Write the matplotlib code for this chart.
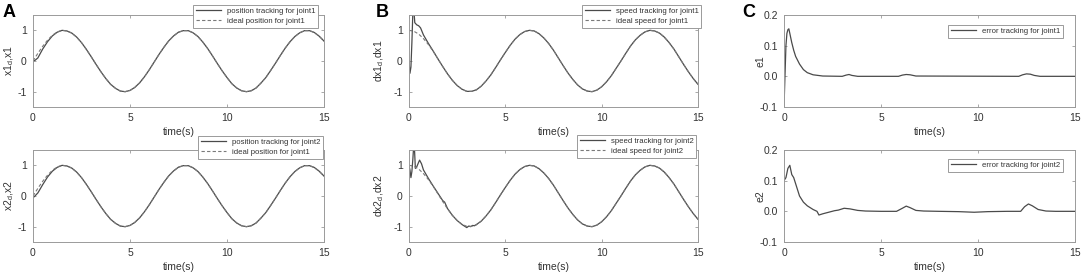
import numpy as np
import matplotlib
matplotlib.use('Agg')
from matplotlib import pyplot as plt

matplotlib.rcParams['font.family'] = ['Liberation Sans', 'DejaVu Sans']
matplotlib.rcParams['mathtext.fontset'] = 'custom'
matplotlib.rcParams['mathtext.rm'] = 'Liberation Sans'
matplotlib.rcParams['mathtext.it'] = 'Liberation Sans'
matplotlib.rcParams['axes.unicode_minus'] = False

# ---- data ----
t_grid = np.arange(0, 15.25, 0.25)

# ideal position (same for both joints)
pos_ideal = [0.00, 0.25, 0.48, 0.68, 0.84, 0.95, 1.00, 0.98, 0.91, 0.78, 0.60, 0.38,
             0.14, -0.11, -0.35, -0.57, -0.76, -0.89, -0.98, -1.00, -0.96, -0.86, -0.71,
             -0.51, -0.28, -0.03, 0.22, 0.45, 0.66, 0.82, 0.94, 0.99, 0.99, 0.92, 0.80,
             0.62, 0.41, 0.17, -0.08, -0.32, -0.54, -0.74, -0.88, -0.97, -1.00, -0.97,
             -0.88, -0.72, -0.54, -0.31, -0.07, 0.18, 0.42, 0.63, 0.80, 0.92, 0.99, 0.99,
             0.93, 0.81, 0.65]

# ideal speed (same for both joints)
spd_ideal = [1.00, 0.97, 0.88, 0.73, 0.54, 0.32, 0.07, -0.18, -0.42, -0.63, -0.80, -0.92,
             -0.99, -0.99, -0.94, -0.82, -0.65, -0.45, -0.21, 0.04, 0.28, 0.51, 0.71, 0.86,
             0.96, 1.00, 0.98, 0.89, 0.75, 0.57, 0.35, 0.10, -0.15, -0.39, -0.60, -0.78,
             -0.91, -0.98, -1.00, -0.95, -0.84, -0.68, -0.48, -0.24, 0.00, 0.25, 0.49,
             0.69, 0.84, 0.95, 1.00, 0.98, 0.91, 0.78, 0.60, 0.39, 0.14, -0.11, -0.35,
             -0.57, -0.76]

# start-up transients of the tracked signals (after that they follow the ideal)
x1_t0 = [0.0, 0.1, 0.25, 0.5, 0.75, 1.0, 1.25]
x1_v0 = [0.0, 0.02, 0.10, 0.39, 0.63, 0.82, 0.94]
x2_t0 = [0.0, 0.1, 0.25, 0.5, 0.75, 1.0, 1.25]
x2_v0 = [-0.06, 0.0, 0.10, 0.37, 0.62, 0.81, 0.935]

dx1_t0 = [0.0, 0.05, 0.1, 0.15, 0.2, 0.25, 0.3, 0.4, 0.5, 0.6, 0.75, 1.0, 1.25]
dx1_v0 = [0.0, -0.4, -0.2, 0.6, 1.6, 1.7, 1.25, 1.18, 1.15, 1.08, 0.85, 0.58, 0.33]
dx2_t0 = [0.0, 0.05, 0.1, 0.15, 0.2, 0.25, 0.28, 0.33, 0.4, 0.5, 0.55, 0.65, 0.75, 1.0,
          1.25, 1.5, 1.75, 1.85, 2.0, 2.25, 2.5, 2.75, 3.0, 3.1, 3.2, 3.3, 3.4, 3.5, 3.75, 4.0]
dx2_v0 = [1.0, 0.85, 0.6, 0.8, 1.2, 1.7, 1.6, 0.9, 0.95, 1.1, 1.17, 1.05, 0.85, 0.58,
          0.33, 0.09, -0.15, -0.2, -0.41, -0.63, -0.80, -0.93, -1.03, -0.98, -1.0, -0.96,
          -0.97, -0.93, -0.82, -0.65]

e1_t = [0, 0.05, 0.1, 0.15, 0.2, 0.25, 0.3, 0.4, 0.5, 0.6, 0.8, 1.0, 1.2, 1.5, 2.0, 3.0,
        3.2, 3.35, 3.5, 3.8, 5.9, 6.1, 6.3, 6.5, 6.8, 12.1, 12.3, 12.5, 12.7, 12.9, 13.2, 15]
e1_v = [-0.1, 0.0, 0.1, 0.14, 0.152, 0.155, 0.14, 0.11, 0.085, 0.065, 0.04, 0.022, 0.012,
        0.005, 0.001, 0.0, 0.004, 0.006, 0.003, 0.0, 0.0, 0.004, 0.006, 0.005, 0.001, 0.0,
        0.005, 0.008, 0.007, 0.003, 0.0, 0.0]

e2_t = [0, 0.1, 0.2, 0.3, 0.4, 0.5, 0.6, 0.8, 1.0, 1.2, 1.5, 1.7, 1.8, 2.0, 2.3, 2.6, 2.8,
        3.1, 3.4, 3.8, 4.2, 5.0, 5.8, 6.1, 6.3, 6.5, 6.8, 7.2, 8.0, 9.0, 9.8, 10.5, 11.5,
        12.2, 12.4, 12.6, 12.8, 13.1, 13.5, 14.0, 15.0]
e2_v = [0.10, 0.11, 0.14, 0.15, 0.12, 0.11, 0.09, 0.05, 0.03, 0.018, 0.006, 0.0, -0.012,
        -0.008, -0.003, 0.002, 0.004, 0.01, 0.008, 0.003, 0.001, 0.0, 0.0, 0.01, 0.017,
        0.012, 0.003, 0.001, 0.0, -0.001, -0.003, -0.001, 0.0, 0.0, 0.015, 0.024, 0.018,
        0.006, 0.001, 0.0, 0.0]


def join(t0, v0, ideal):
    # transient part, then the ideal curve from where the transient ends
    ideal = np.asarray(ideal)
    keep = t_grid > t0[-1] + 1e-9
    return np.r_[t0, t_grid[keep]], np.r_[v0, ideal[keep]]


solid_c = '#4a4a4a'
dash_c = '#7a7a7a'
frame_c = '#9a9a9a'
text_c = '#333333'

fig = plt.figure(figsize=(10.84, 2.74), dpi=100)

W, H = 1084.0, 274.0
lefts = [33, 409, 784]
widths = [291, 289, 291]
rows = [(15, 107), (150, 242)]


def make_ax(col, row):
    top, bot = rows[row]
    ax = fig.add_axes([lefts[col] / W, 1 - bot / H, widths[col] / W, (bot - top) / H])
    ax.set_xlim(0, 15)
    ax.set_xticks([0, 5, 10, 15])
    for s in ax.spines.values():
        s.set_color(frame_c)
        s.set_linewidth(0.7)
    ax.tick_params(direction='in', length=2.5, width=0.6, colors=frame_c,
                   labelcolor=text_c, labelsize=7.5, top=True, right=True, pad=4.5)
    ax.set_xlabel('time(s)', fontsize=7.5, color=text_c)
    ax.xaxis.set_label_coords(0.5, -0.215)
    return ax


def add_legend(ax, x, y, fs=5.6):
    leg = ax.legend(loc='upper left', bbox_to_anchor=(x / W, 1 - y / H),
                    bbox_transform=fig.transFigure, fontsize=fs, frameon=True,
                    fancybox=False, framealpha=1, edgecolor=frame_c, borderpad=0.35,
                    handlelength=3.3, handletextpad=0.7, labelspacing=0.3,
                    borderaxespad=0)
    leg.get_frame().set_linewidth(0.7)
    for txt in leg.get_texts():
        txt.set_color(text_c)
    return leg


# ---- A: position ----
for row, (tt, vv, lab_track, lab_ideal, ylab, lx, ly) in enumerate([
        (x1_t0, x1_v0, 'position tracking for joint1', 'ideal position for joint1',
         r'x1$_d$,x1', 193, 5),
        (x2_t0, x2_v0, 'position tracking for joint2', 'ideal position for joint1',
         r'x2$_d$,x2', 198, 136)]):
    ax = make_ax(0, row)
    tx, vx = join(tt, vv, pos_ideal)
    ax.plot(tx, vx, color=solid_c, lw=0.9, label=lab_track)
    ax.plot(t_grid, pos_ideal, color=dash_c, lw=0.8, ls=(0, (3, 2)), label=lab_ideal)
    ax.set_ylim(-1.5, 1.5)
    ax.set_yticks([-1, 0, 1])
    ax.set_ylabel(ylab, fontsize=7.5, color=text_c)
    ax.yaxis.set_label_coords(-0.058, 0.5)
    add_legend(ax, lx, ly)

# ---- B: speed ----
for row, (tt, vv, lab_track, lab_ideal, ylab, lx, ly) in enumerate([
        (dx1_t0, dx1_v0, 'speed tracking for joint1', 'ideal speed for joint1',
         r'dx1$_d$,dx1', 582, 5),
        (dx2_t0, dx2_v0, 'speed tracking for joint2', 'ideal speed for joint2',
         r'dx2$_d$,dx2', 577, 135)]):
    ax = make_ax(1, row)
    tx, vx = join(tt, vv, spd_ideal)
    ax.plot(tx, vx, color=solid_c, lw=0.9, label=lab_track)
    ax.plot(t_grid, spd_ideal, color=dash_c, lw=0.8, ls=(0, (3, 2)), label=lab_ideal)
    ax.set_ylim(-1.5, 1.5)
    ax.set_yticks([-1, 0, 1])
    ax.set_ylabel(ylab, fontsize=7.5, color=text_c)
    ax.yaxis.set_label_coords(-0.078, 0.5)
    add_legend(ax, lx, ly)

# ---- C: error ----
for row, (tt, vv, lab, ylab, ly) in enumerate([
        (e1_t, e1_v, 'error tracking for joint1', 'e1', 25),
        (e2_t, e2_v, 'error tracking for joint2', 'e2', 159)]):
    ax = make_ax(2, row)
    ax.plot(tt, vv, color=solid_c, lw=0.9, label=lab)
    ax.set_ylim(-0.1, 0.2)
    ax.set_yticks([-0.1, 0, 0.1, 0.2])
    ax.set_ylabel(ylab, fontsize=7.5, color=text_c)
    ax.yaxis.set_label_coords(-0.065, 0.5)
    add_legend(ax, 948, ly)

# panel letters
for x, letter in [(3, 'A'), (376, 'B'), (742, 'C')]:
    fig.text(x / W, 1 - 4 / H, letter, fontsize=13, fontweight='bold', va='top', ha='left')

fig.savefig('out.png', dpi=100)
